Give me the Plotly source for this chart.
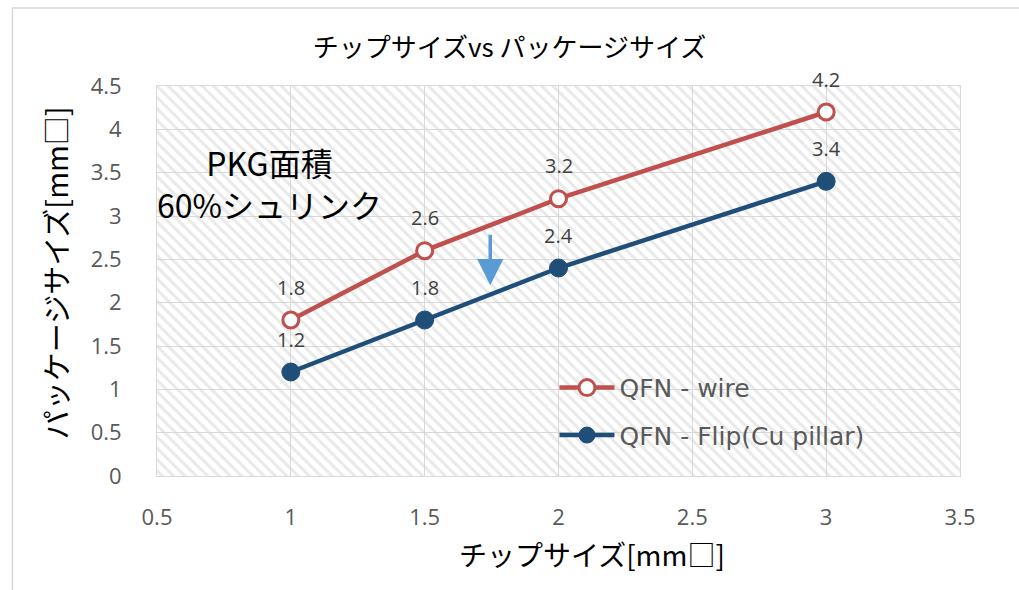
import plotly.graph_objects as go

# Chip size vs. package size for two QFN assembly types
chip_size = [1, 1.5, 2, 3]
pkg_wire = [1.8, 2.6, 3.2, 4.2]
pkg_flip = [1.2, 1.8, 2.4, 3.4]

series_names = ["QFN - wire", "QFN - Flip(Cu pillar)"]
x_ticks = [0.5, 1, 1.5, 2, 2.5, 3, 3.5]
y_ticks = [0, 0.5, 1, 1.5, 2, 2.5, 3, 3.5, 4, 4.5]

X_RANGE = [0.5, 3.5]
Y_RANGE = [0, 4.5]

RED = "#C0504D"
BLUE = "#1F4E79"
GRID = "#D9D9D9"
TICK = "#595959"
JP = "Noto Sans CJK JP"

fig = go.Figure()

# hatched plot background
fig.add_trace(go.Scatter(
    x=[X_RANGE[0], X_RANGE[1], X_RANGE[1], X_RANGE[0], X_RANGE[0]],
    y=[Y_RANGE[0], Y_RANGE[0], Y_RANGE[1], Y_RANGE[1], Y_RANGE[0]],
    mode="none", fill="toself", fillcolor="rgba(0,0,0,0)",
    fillpattern=dict(shape="\\", size=8, solidity=0.38, fgcolor="#D3D3D3",
                     bgcolor="rgba(255,255,255,0)"),
    hoverinfo="skip", showlegend=False,
))

fig.add_trace(go.Scatter(
    x=chip_size, y=pkg_wire, mode="lines+markers", name=series_names[0],
    legendgroup="a",
    line=dict(color=RED, width=4.5),
    marker=dict(size=16, color="white", line=dict(color=RED, width=3)),
))
fig.add_trace(go.Scatter(
    x=chip_size, y=pkg_flip, mode="lines+markers", name=series_names[1],
    legendgroup="b",
    line=dict(color=BLUE, width=4.5),
    marker=dict(size=18, color=BLUE, line=dict(color=BLUE, width=1)),
))

annotations = []
for xs, ys in ((chip_size, pkg_wire), (chip_size, pkg_flip)):
    for xv, yv in zip(xs, ys):
        annotations.append(dict(
            x=xv, y=yv, xref="x", yref="y", text=f"{yv:g}", showarrow=False,
            yshift=33, font=dict(family="Open Sans", size=20, color="#404040"),
        ))

annotations.append(dict(
    x=0.92, y=3.38, xref="x", yref="y", showarrow=False,
    text="PKG面積<br>60%シュリンク", align="center",
    font=dict(family=JP, size=32, color="#000000"),
))

# downward arrow between the two series
annotations.append(dict(
    x=1.745, y=2.2, ax=1.745, ay=2.8, xref="x", yref="y", axref="x", ayref="y",
    text="", showarrow=True, arrowhead=2, arrowsize=1.5, arrowwidth=3.5,
    arrowcolor="#5B9BD5",
))

# axis titles
annotations.append(dict(
    x=0.542, y=-0.2, xref="paper", yref="paper", xanchor="center", yanchor="middle",
    text="チップサイズ[mm□]", showarrow=False,
    font=dict(family=JP, size=28, color="#000000"),
))
annotations.append(dict(
    x=-0.127, y=0.52, xref="paper", yref="paper", xanchor="center", yanchor="middle",
    text="パッケージサイズ[mm□]", showarrow=False, textangle=-90,
    font=dict(family=JP, size=29, color="#000000"),
))

fig.update_layout(
    width=1019, height=590,
    margin=dict(l=157, r=59, t=86, b=114),
    paper_bgcolor="white", plot_bgcolor="white",
    title=dict(text="チップサイズvs パッケージサイズ", x=0.5, xref="container",
               y=0.918, yref="container", xanchor="center", yanchor="middle",
               font=dict(family=JP, size=26, color="#000000")),
    xaxis=dict(range=X_RANGE, tickvals=x_ticks, ticktext=[f"{v:g}" for v in x_ticks],
               showgrid=True, gridcolor=GRID, gridwidth=1, zeroline=False,
               showline=True, linecolor=GRID, mirror=True, ticks="",
               tickfont=dict(family="Open Sans", size=22, color=TICK),
               ticklabelstandoff=22),
    yaxis=dict(range=Y_RANGE, tickvals=y_ticks, ticktext=[f"{v:g}" for v in y_ticks],
               showgrid=True, gridcolor=GRID, gridwidth=1, zeroline=False,
               showline=True, linecolor=GRID, mirror=True, ticks="",
               tickfont=dict(family="Open Sans", size=22, color=TICK),
               ticklabelstandoff=30),
    legend=dict(x=0.495, y=0.285, xanchor="left", yanchor="top",
                bgcolor="rgba(0,0,0,0)", itemwidth=55, tracegroupgap=12,
                font=dict(family="DejaVu Sans", size=25, color=TICK)),
    annotations=annotations,
    shapes=[dict(type="rect", xref="paper", yref="paper",
                 x0=-0.18, x1=1.1, y0=-0.35, y1=1.2,
                 line=dict(color=GRID, width=1.5), layer="below")],
)

fig.write_html("out.html")
